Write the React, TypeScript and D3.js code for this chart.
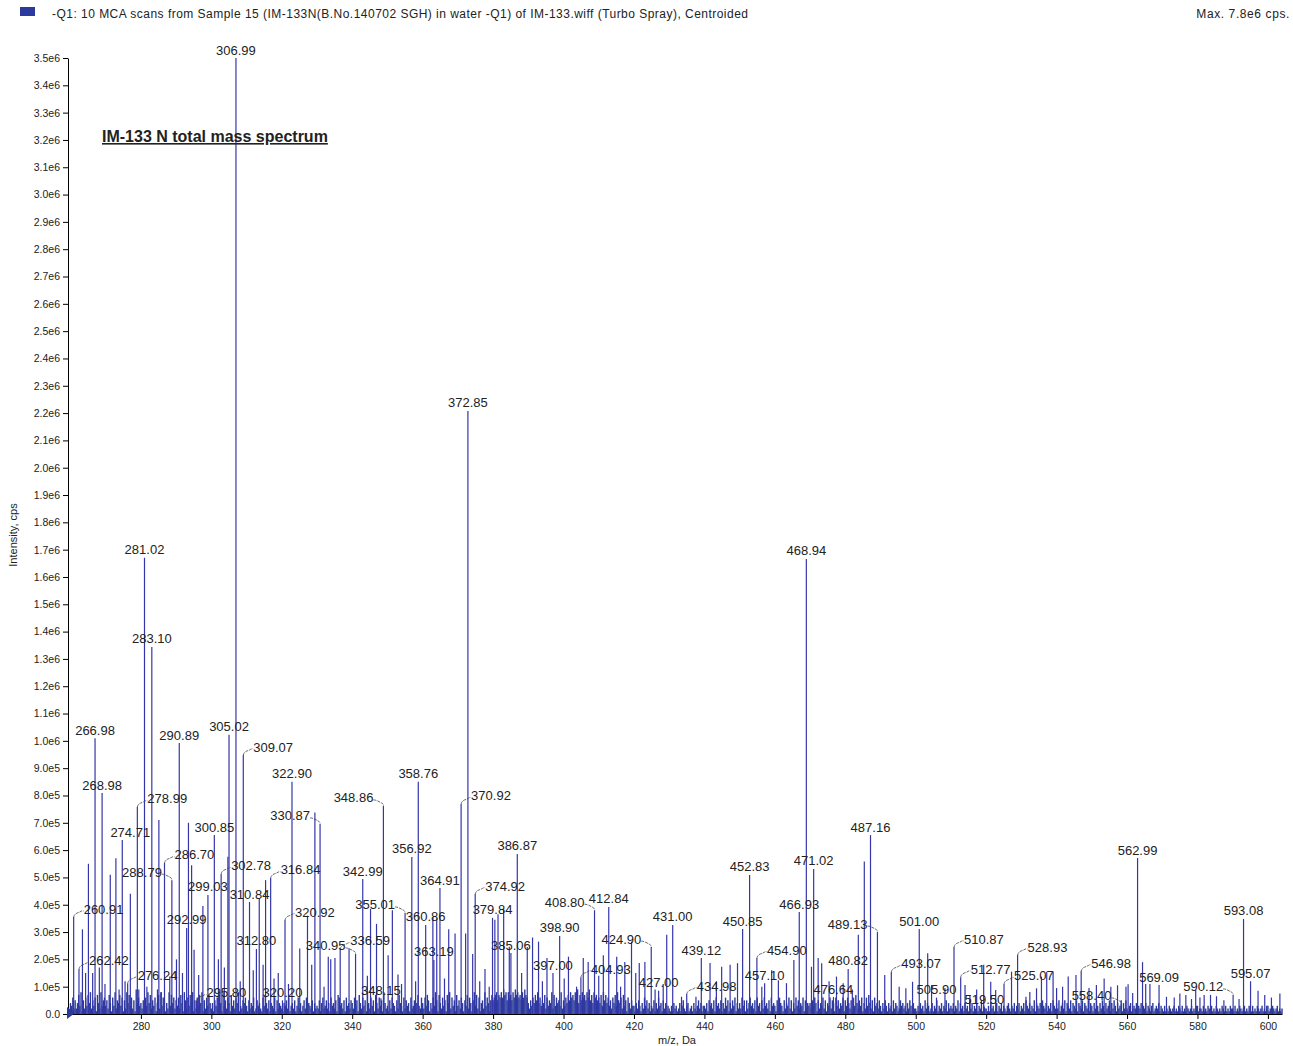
import React, { useEffect, useRef } from "react"
import * as d3 from "d3"

const W = 1293
const H = 1046

const headerText =
    "-Q1: 10 MCA scans from Sample 15 (IM-133N(B.No.140702 SGH) in water -Q1) of IM-133.wiff (Turbo Spray), Centroided"
const maxText = "Max. 7.8e6 cps."
const titleText = "IM-133 N total mass spectrum"

// labelled peaks: [m/z, intensity in 1e5 cps]
const labelledPeaks: [number, number][] = [
    [260.91, 3.55], [262.42, 1.65], [266.98, 10.1], [268.98, 8.09], [274.71, 6.37],
    [276.24, 1.13], [278.99, 7.58], [281.02, 16.7], [283.1, 13.44], [286.7, 5.53],
    [288.79, 4.9], [290.89, 9.92], [292.99, 3.15], [295.8, 0.48], [299.03, 4.36],
    [300.85, 6.55], [302.78, 5.13], [305.02, 10.22], [306.99, 35.0], [309.07, 9.48],
    [310.84, 4.1], [312.8, 2.38], [316.84, 4.98], [320.2, 0.5], [320.92, 3.44],
    [322.9, 8.5], [330.87, 6.96], [336.59, 2.38], [340.95, 2.2], [342.99, 4.94],
    [348.15, 0.58], [348.86, 7.62], [355.01, 3.7], [356.92, 5.75], [358.76, 8.5],
    [360.86, 3.26], [363.19, 1.98], [364.91, 4.61], [370.92, 7.69], [372.85, 22.08],
    [374.92, 4.39], [379.84, 3.52], [385.06, 2.23], [386.87, 5.86], [397.0, 1.5],
    [398.9, 2.86], [404.93, 1.35], [408.8, 3.8], [412.84, 3.92], [424.9, 2.45],
    [427.0, 0.85], [431.0, 3.26], [434.98, 0.73], [439.12, 2.05], [450.85, 3.11],
    [452.83, 5.09], [454.9, 2.05], [457.1, 1.13], [466.93, 3.73], [468.94, 16.66],
    [471.02, 5.31], [476.64, 0.62], [480.82, 1.65], [487.16, 6.55], [489.13, 3.0],
    [493.07, 1.54], [501.0, 3.11], [505.9, 0.6], [510.87, 2.45], [512.77, 1.35],
    [519.5, 0.25], [525.07, 1.1], [528.93, 2.16], [546.98, 1.57], [558.4, 0.37],
    [562.99, 5.71], [569.09, 1.06], [590.12, 0.7], [593.08, 3.48], [595.07, 1.2],
]

// unlabelled peaks: [m/z, intensity in 1e5 cps]
const minorPeaks: [number, number][] = [
    [263.4, 3.1], [264.3, 1.5], [265.1, 5.5], [266.3, 1.5], [268.2, 1.7], [269.8, 1.1],
    [271.3, 5.1], [272.9, 5.7], [273.8, 0.9], [275.5, 1.2], [277.0, 4.4], [279.4, 0.9],
    [281.7, 1.0], [284.7, 0.9], [285.1, 7.1], [285.8, 0.8], [288.2, 1.37], [290.1, 2.0],
    [291.8, 1.5], [293.5, 7.0], [294.4, 5.45], [295.1, 2.35], [296.4, 1.43], [297.6, 3.95],
    [302.0, 2.0], [303.7, 1.7], [304.7, 5.76], [308.2, 1.2], [311.9, 1.6], [313.6, 4.25],
    [314.7, 1.8], [315.4, 4.9], [317.8, 1.3], [319.0, 1.5], [321.9, 1.1], [325.1, 2.4],
    [327.3, 3.6], [328.5, 1.8], [329.4, 7.38], [332.0, 1.0], [333.2, 2.1], [333.9, 2.0],
    [335.1, 2.05], [339.1, 2.4], [344.3, 1.4], [345.2, 3.85], [346.9, 3.3], [350.2, 2.15],
    [351.4, 3.8], [353.0, 1.45], [354.0, 1.1], [358.0, 1.2], [362.9, 3.55], [364.0, 3.5],
    [366.2, 1.3], [367.4, 3.1], [369.2, 2.95], [372.2, 2.95], [374.2, 2.2], [376.2, 1.2],
    [377.7, 1.65], [378.9, 1.0], [380.5, 3.45], [381.4, 3.65], [383.0, 3.85], [384.6, 2.46],
    [388.1, 1.5], [389.7, 2.45], [391.2, 2.8], [392.9, 2.65], [394.0, 1.2], [395.3, 2.05],
    [400.2, 1.3], [401.4, 2.1], [403.7, 1.0], [405.6, 2.05], [407.0, 1.9], [410.0, 1.4],
    [411.3, 2.15], [415.1, 2.1], [416.2, 1.0], [417.4, 1.9], [419.3, 2.65], [420.5, 1.5],
    [421.5, 1.87], [423.1, 1.9], [426.0, 0.9], [428.3, 1.1], [429.3, 2.9], [433.5, 0.63],
    [437.6, 0.63], [441.6, 1.87], [443.4, 1.2], [444.9, 1.73], [447.3, 1.8], [449.4, 1.86],
    [456.3, 1.0], [459.1, 1.6], [461.0, 1.24], [463.3, 1.13], [465.4, 1.98], [470.4, 1.73],
    [472.3, 2.05], [473.3, 1.86], [475.4, 1.2], [477.5, 1.37], [479.4, 1.13], [482.0, 0.9],
    [483.7, 2.9], [485.4, 5.58], [491.2, 1.43], [495.3, 1.0], [497.2, 0.94], [499.1, 1.18],
    [503.4, 2.22], [504.5, 1.06], [508.3, 0.95], [514.0, 1.06], [515.4, 0.7], [517.3, 0.9],
    [519.3, 1.8], [521.3, 1.18], [522.7, 0.88], [527.2, 1.55], [531.3, 0.63], [532.4, 0.81],
    [534.3, 0.94], [535.7, 1.37], [537.2, 1.55], [539.0, 1.55], [540.0, 0.95], [541.7, 1.0],
    [543.3, 1.37], [545.5, 1.43], [549.2, 0.95], [551.3, 1.06], [553.5, 1.3], [555.4, 1.0],
    [557.3, 1.05], [559.7, 1.0], [560.3, 1.09], [561.6, 0.77], [564.4, 1.9], [565.3, 1.1],
    [566.5, 1.1], [571.2, 0.63], [573.4, 0.6], [575.0, 0.75], [576.7, 0.7], [578.3, 0.55],
    [579.5, 0.88], [580.7, 0.6], [581.9, 0.7], [583.7, 0.7], [585.4, 0.65], [587.5, 0.5],
    [591.8, 0.55], [597.2, 0.85], [599.1, 0.7], [601.0, 0.6], [603.4, 0.75],
]

// baseline grass, one digit per 1/3 Da from m/z 260, in 1e4 cps
const grassRows = [
    "436252473815263748253617428356",
    "352741638254736152847362519463",
    "425163847253614728365142837462",
    "536274185263748152637481526374",
    "241536274183526417352648132546",
    "315243612534216374251432615243",
    "214352613425136241352614325142",
    "325146235241634251763425163425",
    "426351742635184263517426351842",
    "315264315274316253416235147326",
    "426375142638517426351748263517",
    "352641537264158372614528364157",
    "567857686978586758697867586976",
    "425364758463547263548273645382",
    "536475867586947586758695748675",
    "647385746352647385462735164253",
    "314253142635241325142634152413",
    "213142312413521341231421352413",
    "324153425163425142635142536142",
    "426351524634251634152634251634",
    "315264315243625142635243615243",
    "425364152436251436254163524361",
    "536425163742536142637425163425",
    "314253142315243125342314253142",
    "213142315243124132513241325142",
    "324132514231423152413241325132",
    "213142312413241321342132413241",
    "324153241325143241532413241532",
    "425134251432514325143251432514",
    "314253142531423514253142351425",
    "213412324132413241321341232413",
    "213121321231213213121321231213",
    "312213121321312132121321312132",
    "213121321231213213121321231213",
    "3121321231212",
]

const yTicks = d3.range(0, 36).map(i => i * 1e5)
const xTicks = d3.range(280, 601, 20)

const leaderSide: Record<string, "l" | "r"> = {
    "260.91": "r", "262.42": "r", "276.24": "r", "278.99": "r", "286.70": "r",
    "295.80": "r", "302.78": "r", "309.07": "r", "316.84": "r", "320.92": "r",
    "336.59": "r", "370.92": "r", "374.92": "r", "404.93": "r", "434.98": "r",
    "454.90": "r", "493.07": "r", "510.87": "r", "512.77": "r", "525.07": "r",
    "528.93": "r", "546.98": "r",
    "288.79": "l", "330.87": "l", "340.95": "l", "348.86": "l", "355.01": "l",
    "408.80": "l", "424.90": "l", "489.13": "l", "558.40": "l", "590.12": "l",
}
const labelDx: Record<string, number> = { "274.71": 8 }

const fmtY = (v: number) => {
    if (v === 0) return "0.0"
    if (v >= 1e6) return (v / 1e6).toFixed(1) + "e6"
    return (v / 1e5).toFixed(1) + "e5"
}

export default function App() {
    const ref = useRef<SVGSVGElement>(null)

    useEffect(() => {
        const svg = d3.select(ref.current)
        svg.selectAll("*").remove()
        const font = "Arial, 'Liberation Sans', sans-serif"
        const blue = "#3535ab"
        const dark = "#2b3a9c"

        const x = d3.scaleLinear().domain([259.3, 604]).range([68, 1282])
        const y = d3.scaleLinear().domain([0, 3.5e6]).range([1014, 58])

        svg.append("rect").attr("width", W).attr("height", H).attr("fill", "#fff")

        // header
        svg.append("rect")
            .attr("x", 20).attr("y", 7).attr("width", 15).attr("height", 9)
            .attr("fill", dark)
        svg.append("text")
            .attr("x", 52).attr("y", 18)
            .attr("font-family", font).attr("font-size", 12)
            .attr("textLength", 696).attr("lengthAdjust", "spacing")
            .attr("fill", "#222")
            .text(headerText)
        svg.append("text")
            .attr("x", 1290).attr("y", 18)
            .attr("text-anchor", "end")
            .attr("font-family", font).attr("font-size", 12)
            .attr("letter-spacing", 0.6)
            .attr("fill", "#222")
            .text(maxText)

        // grass
        const grass: [number, number][] = grassRows
            .join("")
            .split("")
            .map((c, i) => [260 + i / 3, +c * 0.1])

        svg.append("g")
            .selectAll("line")
            .data(grass)
            .enter()
            .append("line")
            .attr("x1", d => x(d[0]))
            .attr("x2", d => x(d[0]))
            .attr("y1", y(0))
            .attr("y2", d => y(d[1] * 1e5))
            .attr("stroke", dark)
            .attr("stroke-width", 1.4)

        svg.append("g")
            .selectAll("line")
            .data([...minorPeaks, ...labelledPeaks])
            .enter()
            .append("line")
            .attr("x1", d => x(d[0]))
            .attr("x2", d => x(d[0]))
            .attr("y1", y(0))
            .attr("y2", d => y(d[1] * 1e5))
            .attr("stroke", blue)
            .attr("stroke-width", 1.2)

        // axes
        const yAxis = svg.append("g")
            .attr("transform", "translate(68,0)")
            .call(d3.axisLeft(y).tickValues(yTicks).tickFormat(d => fmtY(+d)).tickSize(5).tickSizeOuter(0).tickPadding(3))
        const xAxis = svg.append("g")
            .attr("transform", "translate(0,1014)")
            .call(d3.axisBottom(x).tickValues(xTicks).tickFormat(d3.format("d")).tickSize(5).tickSizeOuter(0).tickPadding(4))
        for (const ax of [yAxis, xAxis]) {
            ax.attr("font-family", font).attr("font-size", 10.5)
            ax.selectAll("text").attr("fill", "#222")
            ax.selectAll("line").attr("stroke", "#000")
            ax.select(".domain").attr("stroke", "#000")
        }

        // origin marker
        svg.append("path")
            .attr("d", "M67,1007L75,1013L67,1019Z")
            .attr("fill", dark)

        svg.append("text")
            .attr("transform", "translate(17,535) rotate(-90)")
            .attr("text-anchor", "middle")
            .attr("font-family", font).attr("font-size", 11)
            .attr("fill", "#222")
            .text("Intensity, cps")
        svg.append("text")
            .attr("x", 677).attr("y", 1044)
            .attr("text-anchor", "middle")
            .attr("font-family", font).attr("font-size", 11)
            .attr("fill", "#222")
            .text("m/z, Da")

        // title
        svg.append("text")
            .attr("x", 102).attr("y", 142)
            .attr("font-family", font).attr("font-size", 16)
            .attr("font-weight", "bold")
            .attr("text-decoration", "underline")
            .attr("fill", "#222")
            .text(titleText)

        // peak labels
        const lab = svg.append("g")
            .attr("font-family", font).attr("font-size", 13)
            .attr("fill", "#222")
        labelledPeaks.forEach(([mz, v]) => {
            const txt = mz.toFixed(2)
            const px = x(mz)
            const top = y(v * 1e5)
            const side = leaderSide[txt]
            if (side === "r") {
                lab.append("path")
                    .attr("d", `M${px},${top}C${px + 1},${top - 4} ${px + 4},${top - 4} ${px + 6},${top - 5}S${px + 9},${top - 7} ${px + 10},${top - 6}`)
                    .attr("fill", "none").attr("stroke", "#444").attr("stroke-width", 0.8)
                    .attr("stroke-dasharray", "3,1")
                lab.append("text")
                    .attr("x", px + 10).attr("y", top - 3.5)
                    .text(txt)
            } else if (side === "l") {
                lab.append("path")
                    .attr("d", `M${px - 10},${top - 6}C${px - 7},${top - 6} ${px - 4},${top - 4} ${px - 2},${top - 3}S${px},${top - 1} ${px},${top}`)
                    .attr("fill", "none").attr("stroke", "#444").attr("stroke-width", 0.8)
                    .attr("stroke-dasharray", "3,1")
                lab.append("text")
                    .attr("x", px - 10).attr("y", top - 3.5)
                    .attr("text-anchor", "end")
                    .text(txt)
            } else {
                lab.append("text")
                    .attr("x", px + (labelDx[txt] || 0)).attr("y", top - 3.5)
                    .attr("text-anchor", "middle")
                    .text(txt)
            }
        })
    }, [])

    return (
        <svg
            ref={ref}
            width={W}
            height={H}
            style={{ position: "absolute", left: 0, top: 0, display: "block" }}
        />
    )
}
